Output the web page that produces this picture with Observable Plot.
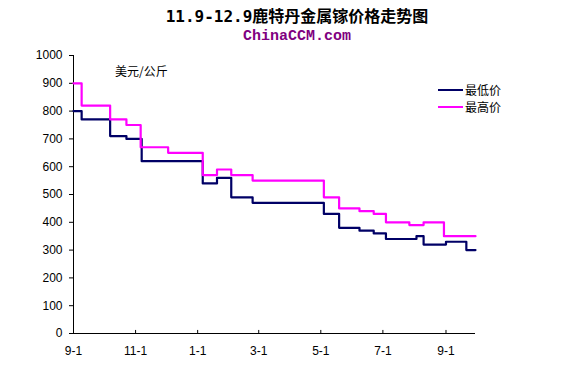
<!DOCTYPE html>
<html><head><meta charset="utf-8">
<script src="https://cdn.jsdelivr.net/npm/d3@7"></script>
<script src="https://cdn.jsdelivr.net/npm/@observablehq/plot@0.6"></script>
<style>
body{margin:0;background:#fff;}
#wrap{position:relative;width:586px;height:369px;overflow:hidden;background:#fff;}
#title{position:absolute;left:4px;top:8px;width:586px;text-align:center;font:bold 16px/18px "DejaVu Sans Mono","Noto Sans CJK SC",monospace;color:#000;white-space:nowrap;}
#sub{position:absolute;left:4px;top:28px;width:586px;text-align:center;font:bold 15px/17px "Liberation Mono","DejaVu Sans Mono",monospace;color:#800080;}
#chart{position:absolute;left:0;top:45px;}
#unit{position:absolute;left:115px;top:64px;font:12px/14px "Noto Sans CJK SC",sans-serif;color:#000;}
.leg{position:absolute;left:438px;font:12px/14px "Noto Sans CJK SC",sans-serif;color:#000;display:flex;align-items:center;}
.leg span.sw{display:inline-block;width:25px;height:2px;margin-right:2px;}
</style></head>
<body>
<div id="wrap">
  <div id="title">11.9-12.9鹿特丹金属镓价格走势图</div>
  <div id="sub">ChinaCCM.com</div>
  <div id="chart"></div>
  <div id="unit">美元/公斤</div>
  <div class="leg" style="top:83px"><span class="sw" style="background:#000066"></span>最低价</div>
  <div class="leg" style="top:100px"><span class="sw" style="background:#FF00FF"></span>最高价</div>
</div>
<script>
// Lowest price (step changes)
const lowDates = ["2011-09-01","2011-09-09","2011-10-07","2011-10-23","2011-11-07","2012-01-06","2012-01-20","2012-02-03","2012-02-24","2012-05-04","2012-05-19","2012-06-08","2012-06-22","2012-07-04","2012-08-03","2012-08-10","2012-09-01","2012-09-21","2012-09-30"];
const lowValues = [800,770,710,700,620,540,560,490,470,430,380,370,360,340,350,320,330,300,300];
// Highest price
const highDates = ["2011-09-01","2011-09-09","2011-10-07","2011-10-23","2011-11-06","2011-12-03","2012-01-06","2012-01-20","2012-02-03","2012-02-24","2012-05-04","2012-05-19","2012-06-08","2012-06-22","2012-07-04","2012-07-27","2012-08-10","2012-08-30","2012-09-30"];
const highValues = [900,820,770,750,670,650,570,590,570,550,490,450,440,430,400,390,400,350,350];
const seriesNames = ["最低价","最高价"];
const seriesColors = ["#000066","#FF00FF"];
const xTicks = ["2011-09-01","2011-11-01","2012-01-01","2012-03-01","2012-05-01","2012-07-01","2012-09-01"];
const yTicks = [0,100,200,300,400,500,600,700,800,900,1000];
const xDomain = ["2011-09-01","2012-09-30"];

const P = s => new Date(s + "T00:00:00Z");
const low = lowDates.map((d,i)=>({date:P(d), value:lowValues[i], s:seriesNames[0]}));
const high = highDates.map((d,i)=>({date:P(d), value:highValues[i], s:seriesNames[1]}));
const tickDates = xTicks.map(P);
const fmt = d3.utcFormat("%-m-%-d");

const chart = Plot.plot({
  width: 586,
  height: 324,
  marginLeft: 73,
  marginRight: 111,
  marginTop: 10,
  marginBottom: 36,
  style: {fontFamily: "Liberation Sans, Arial, sans-serif", fontSize: "12px", color: "#000", background: "#fff"},
  x: {type: "utc", domain: xDomain.map(P)},
  y: {domain: [0, 1000]},
  color: {domain: seriesNames, range: seriesColors},
  marks: [
    Plot.axisY({ticks: yTicks, tickFormat: d3.format("d"), tickSize: 4, tickPadding: 7, label: null, fontSize: 12}),
    Plot.axisX({ticks: tickDates, tickFormat: fmt, tickSize: 0, tickPadding: 13, label: null, fontSize: 12}),
    Plot.ruleX(tickDates, {x: d => d, y1: 0, y2: 11, stroke: "#000"}),
    Plot.ruleX([P(xDomain[0])], {y1: 0, y2: 1000, stroke: "#000"}),
    Plot.ruleY([0], {stroke: "#000"}),
    Plot.line(low, {x: "date", y: "value", stroke: "s", strokeWidth: 2.2, curve: "step-after"}),
    Plot.line(high, {x: "date", y: "value", stroke: "s", strokeWidth: 2.2, curve: "step-after"})
  ]
});
document.getElementById("chart").appendChild(chart);
</script>
</body></html>
